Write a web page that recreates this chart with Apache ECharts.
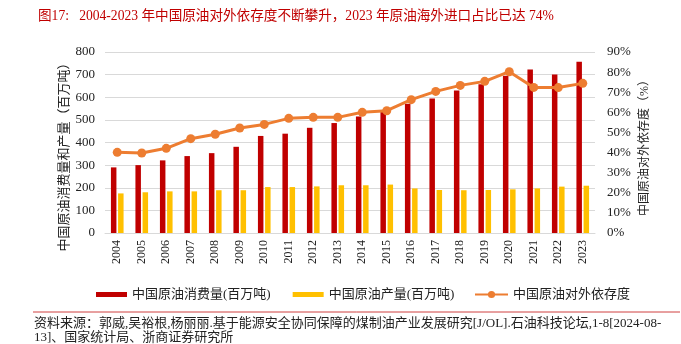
<!DOCTYPE html>
<html><head><meta charset="utf-8">
<script src="https://cdn.jsdelivr.net/npm/echarts@6/dist/echarts.min.js"></script>
<style>html,body{margin:0;padding:0;background:#fff}#c{width:681px;height:344px}</style>
</head><body><div id="c"></div>
<script>
var years = ['2004','2005','2006','2007','2008','2009','2010','2011','2012','2013','2014','2015','2016','2017','2018','2019','2020','2021','2022','2023'];
var consumption = [290,300,321,340,353,381,429,439,465,486,515,538,571,594,630,658,695,723,701,757];
var production = [175,180,184,184,189,189,203,203,206,211,211,214,197,190,189,190,193,197,205,209];
var dependence = [40.1,39.8,42.1,46.9,49.1,52.2,54.0,57.0,57.5,57.5,60.0,60.8,66.3,70.4,73.4,75.4,80.2,72.4,72.3,74.4];
var leftTicks = {min:0, max:800, interval:100};
var rightTicks = {min:0, max:90, interval:10};

var serif = "'Liberation Serif','Noto Sans CJK SC',serif";
var chart = echarts.init(document.getElementById('c'));
chart.setOption({
  animation:false,
  backgroundColor:'#fff',
  title:{text:'图17:   2004-2023 年中国原油对外依存度不断攀升，2023 年原油海外进口占比已达 74%',left:33,top:5,
    textStyle:{fontFamily:serif,fontSize:13.6,fontWeight:'normal',color:'#C00000'}},
  grid:{left:105,right:86,top:52,bottom:111},
  legend:[{left:91,top:283,itemGap:22,itemWidth:31,itemHeight:5,
    textStyle:{fontFamily:serif,fontSize:13,color:'#222'},
    data:[{name:'中国原油消费量(百万吨)',icon:'rect'},{name:'中国原油产量(百万吨)',icon:'rect'}]},
    {left:469,top:283,itemWidth:33,itemHeight:9,
    textStyle:{fontFamily:serif,fontSize:13,color:'#222'},
    data:[{name:'中国原油对外依存度'}]}],
  xAxis:{type:'category',data:years,
    axisLine:{lineStyle:{color:'#d9d9d9'}},axisTick:{show:false},
    axisLabel:{rotate:90,fontFamily:serif,fontSize:12,color:'#222',margin:7}},
  yAxis:[{type:'value',min:leftTicks.min,max:leftTicks.max,interval:leftTicks.interval,
    axisLine:{show:false},axisTick:{show:false},
    axisLabel:{fontFamily:serif,fontSize:13,color:'#222',margin:10},
    splitLine:{lineStyle:{color:'#d9d9d9',width:1}}},
   {type:'value',min:rightTicks.min,max:rightTicks.max,interval:rightTicks.interval,position:'right',
    axisLine:{show:false},axisTick:{show:false},splitLine:{show:false},
    axisLabel:{fontFamily:serif,fontSize:13,color:'#222',margin:12,formatter:'{value}%'}}],
  series:[
    {name:'中国原油消费量(百万吨)',type:'bar',data:consumption,barWidth:5.5,barGap:'30%',itemStyle:{color:'#C00000'}},
    {name:'中国原油产量(百万吨)',type:'bar',data:production,barWidth:5.5,barGap:'30%',itemStyle:{color:'#FFC000'}},
    {name:'中国原油对外依存度',type:'line',yAxisIndex:1,data:dependence,symbol:'circle',symbolSize:9,
      lineStyle:{color:'#ED7D31',width:3},itemStyle:{color:'#ED7D31'}}
  ],
  graphic:[
    {type:'text',x:65,y:154,rotation:Math.PI/2,style:{text:'中国原油消费量和产量（百万吨）',
      font:"13px 'Liberation Serif','Noto Sans CJK SC',serif",fill:'#222',align:'center',verticalAlign:'middle'}},
    {type:'text',x:645,y:145,rotation:Math.PI/2,style:{text:'中国原油对外依存度（%）',
      font:"12px 'Liberation Serif','Noto Sans CJK SC',serif",fill:'#222',align:'center',verticalAlign:'middle'}},
    {type:'line',shape:{x1:33,y1:312,x2:680,y2:312},style:{stroke:'#D04040',lineWidth:1}},
    {type:'text',left:34,top:317,style:{text:'资料来源：郭威,吴裕根,杨丽丽.基于能源安全协同保障的煤制油产业发展研究[J/OL].石油科技论坛,1-8[2024-08-\n13]、国家统计局、浙商证券研究所',
      font:"13px 'Liberation Serif','Noto Sans CJK SC',serif",fill:'#222',lineHeight:14}}
  ]
});
</script></body></html>
